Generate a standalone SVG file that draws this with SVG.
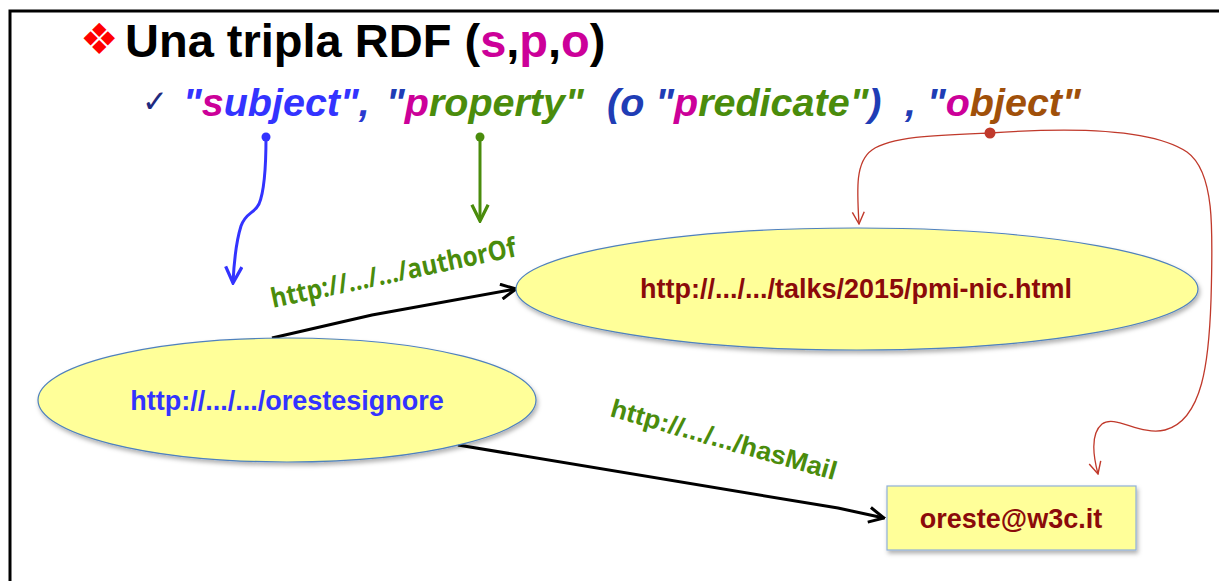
<svg xmlns="http://www.w3.org/2000/svg" width="1219" height="581" viewBox="0 0 1219 581">
<style>
  .b { font-family: "Liberation Sans", Arial, sans-serif; font-weight: bold; }
  .bi { font-family: "Liberation Sans", Arial, sans-serif; font-weight: bold; font-style: italic; }
  .node { fill: #FFFF99; stroke: #4F81BD; stroke-width: 1.2; }
  .lbl { font-family: "Open Sans", "Liberation Sans", sans-serif; font-weight: bold; fill: #4A8C0C; }
  .nodetext { font-family: "Liberation Sans", Arial, sans-serif; font-weight: bold; font-size: 27px; text-anchor: middle; }
  .blk { fill: none; stroke: #000; stroke-width: 3; stroke-linejoin: round; }
  .red { fill: none; stroke: #C0392B; stroke-width: 1.3; }
</style>
<defs>
  <filter id="sh" x="-10%" y="-20%" width="120%" height="150%">
    <feDropShadow dx="1.5" dy="3" stdDeviation="2" flood-color="#000" flood-opacity="0.3"/>
  </filter>
  <marker id="ab" viewBox="0 0 12 12" refX="11" refY="6" markerWidth="6" markerHeight="6" orient="auto" markerUnits="strokeWidth">
    <path d="M1,1 L11,6 L1,11" fill="none" stroke="#000" stroke-width="2"/>
  </marker>
  <marker id="abl" viewBox="0 0 12 12" refX="11" refY="6" markerWidth="6.5" markerHeight="6.5" orient="auto" markerUnits="strokeWidth">
    <path d="M1,1 L11,6 L1,11" fill="none" stroke="#3333FF" stroke-width="2"/>
  </marker>
  <marker id="agr" viewBox="0 0 12 12" refX="11" refY="6" markerWidth="6.5" markerHeight="6.5" orient="auto" markerUnits="strokeWidth">
    <path d="M1,1 L11,6 L1,11" fill="none" stroke="#4A8C0C" stroke-width="2"/>
  </marker>
  <marker id="ard" viewBox="0 0 12 12" refX="11" refY="6" markerWidth="11" markerHeight="11" orient="auto" markerUnits="strokeWidth">
    <path d="M1,1 L11,6 L1,11" fill="none" stroke="#C0392B" stroke-width="1.2"/>
  </marker>
</defs>
<rect width="1219" height="581" fill="#fff"/>
<path d="M10,581 L10,11 L1219,11" fill="none" stroke="#000" stroke-width="3"/>

<g id="title">
  <text x="80" y="54" font-family="DejaVu Sans, sans-serif" font-size="43" fill="#FF0000">❖</text>
  <text class="b" x="125" y="57" font-size="47" fill="#000">Una tripla RDF (<tspan fill="#CC0099">s</tspan>,<tspan fill="#CC0099">p</tspan>,<tspan fill="#CC0099">o</tspan>)</text>
</g>
<g id="subtitle">
  <text x="142" y="112" font-family="DejaVu Sans, sans-serif" font-size="31" fill="#1F2A80">✓</text>
  <text class="bi" x="183" y="116" font-size="39.5"><tspan fill="#3333FF">"</tspan><tspan fill="#CC0099">s</tspan><tspan fill="#3333FF">ubject"</tspan><tspan fill="#2A3AD0">, </tspan><tspan x="386" fill="#1F3DB5">"</tspan><tspan fill="#CC0099">p</tspan><tspan fill="#4A8C0C">roperty"</tspan><tspan x="607" fill="#1F3DB5">(o "</tspan><tspan fill="#CC0099">p</tspan><tspan fill="#4A8C0C">redicate"</tspan><tspan fill="#1F3DB5">)</tspan><tspan x="905" fill="#1F3DB5">, "</tspan><tspan fill="#CC0099">o</tspan><tspan fill="#A0500A">bject"</tspan></text>
</g>

<g id="connectors">
  <circle cx="266" cy="137" r="4.5" fill="#3333FF"/>
  <path d="M266,137 C266,160 265,190 259,204 C254,214 246,212 241,226 C236,242 234,262 233,283" fill="none" stroke="#3333FF" stroke-width="3" marker-end="url(#abl)"/>
  <circle cx="480" cy="137" r="4.5" fill="#4A8C0C"/>
  <path d="M480,137 L480,221" fill="none" stroke="#4A8C0C" stroke-width="3" marker-end="url(#agr)"/>
  <path class="red" d="M990,133 C940,135 892,136 872,150 C855,162 857,190 859,224" marker-end="url(#ard)"/>
  <path class="red" d="M990,133 C1060,128 1150,127 1187,152 C1215,172 1213,230 1211,300 C1209,360 1203,420 1165,430 C1140,436 1115,414 1102,424 C1090,434 1093,455 1098,474" marker-end="url(#ard)"/>
  <circle cx="990" cy="133" r="5.5" fill="#C0392B"/>
  <path class="blk" d="M272,338 L372,315 L516,289" marker-end="url(#ab)"/>
  <path class="blk" d="M458,445 L838,508 L884,518" marker-end="url(#ab)"/>
  <text class="lbl" x="273" y="308" font-size="27" textLength="250" lengthAdjust="spacingAndGlyphs" transform="rotate(-12 273 308)">http://.../.../authorOf</text>
  <text class="b" x="609" y="416" font-size="26" fill="#4A8C0C" textLength="234" lengthAdjust="spacingAndGlyphs" transform="rotate(15.9 609 416)">http://.../.../hasMail</text>
</g>

<g id="node-object">
  <ellipse class="node" cx="857" cy="289" rx="341" ry="61" filter="url(#sh)"/>
  <text class="nodetext" x="856" y="298" fill="#8B0A0A">http://.../.../talks/2015/pmi-nic.html</text>
</g>
<g id="node-subject">
  <ellipse class="node" cx="287" cy="400" rx="249" ry="62" filter="url(#sh)"/>
  <text class="nodetext" x="287" y="410" fill="#3333FF">http://.../.../orestesignore</text>
</g>
<g id="node-mail">
  <rect x="887" y="486" width="249" height="64" fill="#FFFF99" stroke="#8FB0D8" stroke-width="1.2" filter="url(#sh)"/>
  <text class="nodetext" x="1011" y="528" fill="#8B0A0A">oreste@w3c.it</text>
</g>
</svg>
